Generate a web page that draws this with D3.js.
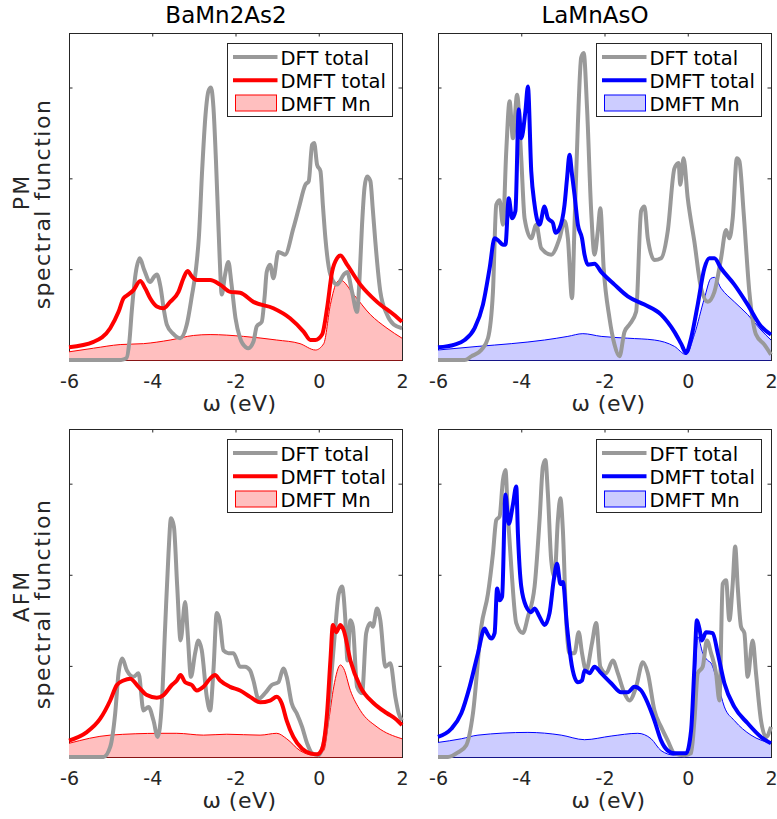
<!DOCTYPE html>
<html>
<head>
<meta charset="utf-8">
<script src="https://cdn.jsdelivr.net/npm/d3@7"></script>
<style>
  html, body { margin: 0; padding: 0; background: #fff; }
  svg { display: block; font-family: "DejaVu Sans", sans-serif; }
</style>
</head>
<body>
<svg id="fig" width="777" height="819"></svg>
<script>
// ---- data: spectral functions A(ω), energies in eV ----
const omegaTicks = [-6, -4, -2, 0, 2];
const yTicks = [1, 2, 3];
const materials = ["BaMn2As2", "LaMnAsO"];
const phases = ["PM", "AFM"];
const seriesNames = ["DFT total", "DMFT total", "DMFT Mn"];

// BaMn2As2, paramagnetic
const dftBaPM = [[-6,0],[-4.75,0],[-4.62,0.02],[-4.55,0.2],[-4.49,0.55],[-4.4,0.95],[-4.3,1.12],[-4.2,1.0],[-4.05,0.86],[-3.95,0.92],[-3.89,0.94],[-3.8,0.8],[-3.72,0.55],[-3.65,0.39],[-3.5,0.29],[-3.33,0.24],[-3.17,0.39],[-3.05,0.7],[-2.95,1.0],[-2.88,1.35],[-2.8,2.1],[-2.72,2.7],[-2.65,2.96],[-2.59,3.0],[-2.53,2.78],[-2.47,2.2],[-2.42,1.6],[-2.38,1.12],[-2.33,0.72],[-2.25,0.94],[-2.17,1.08],[-2.1,0.85],[-2.0,0.46],[-1.89,0.24],[-1.75,0.14],[-1.69,0.13],[-1.57,0.2],[-1.49,0.37],[-1.37,0.42],[-1.3,0.7],[-1.25,0.97],[-1.17,1.05],[-1.09,0.9],[-0.97,1.19],[-0.81,1.16],[-0.61,1.45],[-0.48,1.67],[-0.32,1.93],[-0.24,1.97],[-0.16,2.37],[-0.11,2.39],[-0.04,2.15],[0.04,2.08],[0.1,1.7],[0.16,1.34],[0.28,0.94],[0.44,0.83],[0.6,0.94],[0.68,0.97],[0.8,0.75],[0.92,0.53],[0.98,0.9],[1.04,1.49],[1.1,1.9],[1.16,2.02],[1.24,1.97],[1.3,1.65],[1.36,1.3],[1.48,0.75],[1.64,0.5],[1.8,0.39],[2.0,0.35]];
const dmftBaPM = [[-6,0.14],[-5.41,0.2],[-5.01,0.35],[-4.81,0.53],[-4.69,0.68],[-4.61,0.71],[-4.45,0.77],[-4.29,0.87],[-4.17,0.79],[-4.05,0.68],[-3.89,0.59],[-3.73,0.57],[-3.57,0.64],[-3.37,0.75],[-3.25,0.9],[-3.15,0.98],[-3.05,0.92],[-2.93,0.88],[-2.61,0.88],[-2.37,0.83],[-2.13,0.75],[-1.89,0.74],[-1.57,0.64],[-1.09,0.57],[-0.69,0.46],[-0.36,0.31],[-0.2,0.22],[-0.08,0.22],[0.08,0.28],[0.2,0.57],[0.32,0.97],[0.44,1.12],[0.52,1.15],[0.68,1.05],[1.0,0.83],[1.4,0.64],[1.8,0.5],[2.0,0.42]];
const mnBaPM = [[-6,0.09],[-5.41,0.13],[-4.77,0.17],[-4.21,0.18],[-3.57,0.22],[-3.01,0.27],[-2.61,0.28],[-1.81,0.26],[-1.01,0.22],[-0.45,0.18],[-0.08,0.11],[0.12,0.18],[0.28,0.61],[0.44,0.86],[0.52,0.88],[0.84,0.72],[1.24,0.5],[1.64,0.35],[2.0,0.24]];

// LaMnAsO, paramagnetic
const dftLaPM = [[-6,0],[-5.36,0],[-5.2,0.04],[-4.96,0.11],[-4.8,0.24],[-4.68,0.75],[-4.6,1.71],[-4.52,1.76],[-4.44,1.49],[-4.36,2.3],[-4.28,2.85],[-4.2,2.44],[-4.1,2.92],[-4.0,2.22],[-3.92,1.56],[-3.76,1.34],[-3.64,1.49],[-3.52,1.23],[-3.28,1.16],[-3.08,1.34],[-2.96,1.53],[-2.88,1.34],[-2.78,0.68],[-2.72,1.49],[-2.64,2.59],[-2.56,3.33],[-2.5,3.38],[-2.42,2.78],[-2.32,1.64],[-2.24,1.16],[-2.16,1.42],[-2.1,1.67],[-2.02,1.01],[-1.88,0.46],[-1.76,0.17],[-1.64,0.04],[-1.52,0.31],[-1.4,0.39],[-1.24,0.53],[-1.12,1.64],[-1.04,1.69],[-0.96,1.34],[-0.8,1.1],[-0.64,1.12],[-0.48,1.42],[-0.32,2.11],[-0.22,2.17],[-0.18,1.93],[-0.1,2.22],[0.0,1.78],[0.16,1.3],[0.32,0.79],[0.48,0.64],[0.64,0.75],[0.8,1.12],[0.92,1.43],[1.0,1.34],[1.08,1.56],[1.18,2.22],[1.24,2.19],[1.34,1.64],[1.48,0.75],[1.64,0.28],[1.84,0.17],[2.0,0.06]];
const dmftLaPM = [[-6,0.14],[-5.6,0.17],[-5.36,0.22],[-5.12,0.35],[-4.92,0.61],[-4.76,1.01],[-4.64,1.34],[-4.54,1.31],[-4.44,1.27],[-4.38,1.27],[-4.3,1.78],[-4.22,1.56],[-4.14,1.64],[-4.06,2.76],[-4.0,2.44],[-3.9,2.74],[-3.84,3.01],[-3.76,2.08],[-3.68,1.71],[-3.56,1.49],[-3.44,1.69],[-3.36,1.56],[-3.24,1.51],[-3.18,1.4],[-3.08,1.45],[-2.96,1.71],[-2.9,2.0],[-2.84,2.26],[-2.78,2.04],[-2.72,1.82],[-2.64,1.49],[-2.54,1.34],[-2.48,1.16],[-2.4,1.05],[-2.24,1.06],[-2.08,0.97],[-1.76,0.83],[-1.44,0.7],[-1.04,0.61],[-0.64,0.5],[-0.32,0.31],[-0.16,0.18],[-0.04,0.08],[0.08,0.24],[0.24,0.61],[0.4,1.01],[0.52,1.12],[0.64,1.12],[0.8,1.01],[1.12,0.83],[1.44,0.61],[1.76,0.37],[2.0,0.28]];
const mnLaPM = [[-6,0.11],[-5.04,0.15],[-4.24,0.18],[-3.44,0.22],[-2.88,0.26],[-2.52,0.29],[-2.08,0.26],[-1.44,0.24],[-0.8,0.22],[-0.32,0.15],[-0.04,0.06],[0.16,0.28],[0.4,0.68],[0.56,0.9],[0.64,0.91],[0.8,0.79],[1.12,0.64],[1.44,0.5],[1.76,0.33],[2.0,0.22]];

// BaMn2As2, antiferromagnetic
const dftBaAFM = [[-6,0],[-5.17,0],[-5.01,0.11],[-4.89,0.48],[-4.81,0.92],[-4.72,1.08],[-4.61,0.95],[-4.45,0.88],[-4.33,0.92],[-4.21,0.51],[-4.09,0.55],[-3.97,0.4],[-3.87,0.22],[-3.77,0.59],[-3.69,1.43],[-3.61,2.23],[-3.55,2.62],[-3.48,2.53],[-3.4,1.87],[-3.32,1.28],[-3.21,1.7],[-3.15,1.36],[-3.07,0.88],[-2.97,1.14],[-2.89,1.28],[-2.81,1.17],[-2.69,0.66],[-2.61,0.51],[-2.53,0.95],[-2.45,1.58],[-2.38,1.5],[-2.29,1.17],[-2.17,1.14],[-2.05,1.14],[-1.89,0.99],[-1.77,0.99],[-1.65,0.95],[-1.57,0.84],[-1.45,0.64],[-1.29,0.7],[-1.13,0.79],[-0.97,0.82],[-0.85,0.97],[-0.77,0.88],[-0.65,0.59],[-0.53,0.48],[-0.4,0.33],[-0.28,0.15],[-0.16,0.04],[0.0,0.02],[0.16,0.26],[0.28,0.77],[0.4,1.43],[0.48,1.79],[0.56,1.87],[0.64,1.5],[0.69,1.06],[0.76,1.5],[0.82,1.43],[0.92,0.77],[1.04,0.7],[1.14,1.36],[1.24,1.47],[1.3,1.43],[1.4,1.63],[1.48,1.5],[1.6,0.99],[1.72,1.03],[1.84,0.66],[1.92,0.48],[2.0,0.4]];
const dmftBaAFM = [[-6,0.18],[-5.58,0.27],[-5.25,0.42],[-5.01,0.62],[-4.85,0.79],[-4.69,0.84],[-4.53,0.86],[-4.33,0.77],[-4.13,0.68],[-3.89,0.65],[-3.73,0.68],[-3.53,0.79],[-3.41,0.84],[-3.32,0.9],[-3.21,0.82],[-3.05,0.79],[-2.93,0.73],[-2.77,0.77],[-2.61,0.86],[-2.49,0.9],[-2.37,0.84],[-2.13,0.77],[-1.89,0.73],[-1.65,0.66],[-1.41,0.6],[-1.17,0.62],[-1.01,0.66],[-0.89,0.59],[-0.77,0.4],[-0.61,0.22],[-0.4,0.09],[-0.2,0.04],[-0.04,0.03],[0.08,0.09],[0.2,0.48],[0.28,1.06],[0.34,1.45],[0.42,1.37],[0.52,1.45],[0.6,1.39],[0.76,1.06],[1.0,0.77],[1.32,0.59],[1.64,0.48],[1.84,0.42],[2.0,0.35]];
const mnBaAFM = [[-6,0.15],[-5.01,0.24],[-3.81,0.26],[-3.41,0.26],[-2.77,0.24],[-2.21,0.25],[-1.41,0.24],[-1.01,0.26],[-0.77,0.2],[-0.45,0.07],[-0.13,0.02],[0.12,0.07],[0.24,0.4],[0.36,0.77],[0.52,1.01],[0.6,0.97],[0.76,0.73],[1.0,0.51],[1.4,0.33],[2.0,0.2]];

// LaMnAsO, antiferromagnetic
const dftLaAFM = [[-6,0],[-5.76,0],[-5.52,0.05],[-5.32,0.13],[-5.16,0.48],[-4.96,1.43],[-4.8,1.79],[-4.68,2.23],[-4.6,2.6],[-4.52,2.64],[-4.44,3.04],[-4.38,3.15],[-4.32,2.64],[-4.24,2.09],[-4.12,1.47],[-3.96,1.36],[-3.84,1.54],[-3.68,1.87],[-3.56,2.6],[-3.48,3.19],[-3.42,3.26],[-3.36,2.89],[-3.28,2.16],[-3.2,1.98],[-3.12,2.6],[-3.06,2.84],[-3.0,2.49],[-2.92,1.5],[-2.84,1.14],[-2.72,1.14],[-2.62,1.37],[-2.54,1.14],[-2.44,0.95],[-2.3,1.25],[-2.2,1.47],[-2.1,0.99],[-1.96,0.92],[-1.8,1.06],[-1.68,0.92],[-1.52,0.7],[-1.4,0.62],[-1.24,0.77],[-1.08,1.04],[-0.96,0.92],[-0.8,0.51],[-0.64,0.33],[-0.48,0.18],[-0.32,0.04],[-0.08,0.02],[0.08,0.04],[0.16,0.4],[0.24,0.92],[0.36,0.99],[0.46,1.28],[0.56,1.14],[0.68,0.92],[0.76,0.62],[0.84,1.9],[0.92,1.94],[1.0,1.5],[1.08,1.9],[1.14,2.31],[1.2,1.87],[1.28,1.43],[1.36,1.36],[1.44,0.88],[1.56,1.28],[1.64,0.92],[1.76,0.4],[1.88,0.22],[2.0,0.33]];
const dmftLaAFM = [[-6,0.22],[-5.68,0.31],[-5.44,0.48],[-5.24,0.77],[-5.04,1.14],[-4.88,1.41],[-4.82,1.36],[-4.72,1.3],[-4.64,1.36],[-4.58,1.85],[-4.52,1.72],[-4.46,1.76],[-4.38,2.88],[-4.3,2.56],[-4.2,2.77],[-4.12,2.97],[-4.08,2.45],[-4.0,1.87],[-3.88,1.65],[-3.76,1.59],[-3.68,1.63],[-3.56,1.54],[-3.44,1.45],[-3.32,1.58],[-3.22,1.94],[-3.14,2.12],[-3.06,1.9],[-3.0,1.92],[-2.9,1.43],[-2.78,0.99],[-2.64,0.82],[-2.54,0.84],[-2.48,0.95],[-2.36,0.92],[-2.24,0.99],[-2.08,0.92],[-1.84,0.81],[-1.6,0.71],[-1.44,0.71],[-1.28,0.77],[-1.12,0.73],[-0.96,0.59],[-0.8,0.4],[-0.64,0.18],[-0.48,0.07],[-0.32,0.04],[-0.04,0.04],[0.08,0.29],[0.16,0.99],[0.22,1.5],[0.28,1.41],[0.34,1.28],[0.44,1.37],[0.6,1.36],[0.72,1.14],[0.88,0.81],[1.12,0.55],[1.44,0.37],[1.76,0.22],[2.0,0.15]];
const mnLaAFM = [[-6,0.16],[-5.44,0.2],[-5.04,0.24],[-3.84,0.27],[-3.04,0.24],[-2.48,0.19],[-1.84,0.23],[-1.2,0.26],[-0.88,0.2],[-0.64,0.07],[-0.32,0.02],[0.08,0.04],[0.16,0.7],[0.24,1.32],[0.36,1.14],[0.48,1.06],[0.56,1.03],[0.72,0.81],[0.88,0.55],[1.12,0.4],[1.52,0.24],[2.0,0.15]];

// ---- panel arrangement ----
const panels = [
  { row: 0, col: 0, dft: dftBaPM,  dmft: dmftBaPM,  mn: mnBaPM,  color: "#ff0000", fill: "#ffbfbf" },
  { row: 0, col: 1, dft: dftLaPM,  dmft: dmftLaPM,  mn: mnLaPM,  color: "#0000ff", fill: "#ccccff" },
  { row: 1, col: 0, dft: dftBaAFM, dmft: dmftBaAFM, mn: mnBaAFM, color: "#ff0000", fill: "#ffbfbf" },
  { row: 1, col: 1, dft: dftLaAFM, dmft: dmftLaAFM, mn: mnLaAFM, color: "#0000ff", fill: "#ccccff" }
];

const svg = d3.select("#fig");
const ink = "#262626";
const grey = "#999999";
const plotW = 333;
const colLeft = [69, 438];
const rowBox = [{ top: 33, bottom: 360 }, { top: 429, bottom: 757 }];
const yMax = 3.6;
const tickLen = 3.5;

panels.forEach(p => {
  const left = colLeft[p.col];
  const { top, bottom } = rowBox[p.row];
  const x = d3.scaleLinear().domain([-6, 2]).range([left, left + plotW]);
  const y = d3.scaleLinear().domain([0, yMax]).range([bottom, top]);
  const g = svg.append("g");

  // frame and inward ticks on all four sides
  g.append("rect")
    .attr("x", left + 0.5).attr("y", top + 0.5)
    .attr("width", plotW).attr("height", bottom - top)
    .attr("fill", "none").attr("stroke", ink).attr("stroke-width", 1);

  const styleAxis = sel => {
    sel.select(".domain").remove();
    sel.selectAll(".tick line").attr("stroke", ink);
    sel.selectAll(".tick text").attr("fill", ink)
      .attr("font-family", "DejaVu Sans").attr("font-size", 19);
  };
  g.append("g").attr("transform", `translate(0,${bottom})`)
    .call(d3.axisBottom(x).tickValues(omegaTicks).tickSizeInner(-tickLen).tickSizeOuter(0)
      .tickPadding(14.5).tickFormat(d => d < 0 ? "-" + Math.abs(d) : String(d)))
    .call(styleAxis);
  g.append("g").attr("transform", `translate(0,${top})`)
    .call(d3.axisTop(x).tickValues(omegaTicks).tickSizeInner(-tickLen).tickSizeOuter(0).tickFormat(""))
    .call(styleAxis);
  g.append("g").attr("transform", `translate(${left},0)`)
    .call(d3.axisLeft(y).tickValues(yTicks).tickSizeInner(-tickLen).tickSizeOuter(0).tickFormat(""))
    .call(styleAxis);
  g.append("g").attr("transform", `translate(${left + plotW},0)`)
    .call(d3.axisRight(y).tickValues(yTicks).tickSizeInner(-tickLen).tickSizeOuter(0).tickFormat(""))
    .call(styleAxis);

  // Mn-projected spectral weight
  const area = d3.area().x(d => x(d[0])).y0(y(0)).y1(d => y(d[1])).curve(d3.curveMonotoneX);
  const line = d3.line().x(d => x(d[0])).y(d => y(d[1])).curve(d3.curveMonotoneX);
  g.append("path").datum(p.mn).attr("d", area).attr("fill", p.fill).attr("stroke", "none");
  g.append("path").datum(p.mn).attr("d", line).attr("fill", "none")
    .attr("stroke", p.color).attr("stroke-width", 1);
  g.append("line").attr("x1", x(-6)).attr("x2", x(2)).attr("y1", y(0) + 0.5).attr("y2", y(0) + 0.5)
    .attr("stroke", p.color).attr("stroke-opacity", 0.45).attr("stroke-width", 1);

  // DFT total and DMFT total
  g.append("path").datum(p.dft).attr("d", line).attr("fill", "none")
    .attr("stroke", grey).attr("stroke-width", 4).attr("stroke-linejoin", "round");
  g.append("path").datum(p.dmft).attr("d", line).attr("fill", "none")
    .attr("stroke", p.color).attr("stroke-width", 4).attr("stroke-linejoin", "round");

  // legend
  const lw = 165, lh = 73;
  const lx = left + plotW - 10 - lw, ly = top + 10;
  const lg = g.append("g").attr("font-family", "DejaVu Sans").attr("font-size", 19.5).attr("fill", "#000");
  lg.append("rect").attr("x", lx + 0.5).attr("y", ly + 0.5).attr("width", lw).attr("height", lh)
    .attr("fill", "#fff").attr("stroke", ink).attr("stroke-width", 1);
  lg.append("line").attr("x1", lx + 6).attr("x2", lx + 50.5).attr("y1", ly + 14).attr("y2", ly + 14)
    .attr("stroke", grey).attr("stroke-width", 4);
  lg.append("line").attr("x1", lx + 6).attr("x2", lx + 50.5).attr("y1", ly + 37.3).attr("y2", ly + 37.3)
    .attr("stroke", p.color).attr("stroke-width", 4);
  lg.append("rect").attr("x", lx + 8.5).attr("y", ly + 52).attr("width", 41).attr("height", 16)
    .attr("fill", p.fill).attr("stroke", p.color).attr("stroke-width", 1);
  const baselines = [21.7, 45, 67.7];
  seriesNames.forEach((s, i) => {
    lg.append("text").attr("x", lx + 53.5).attr("y", ly + baselines[i]).text(s);
  });

  // x label
  g.append("text")
    .attr("x", left + plotW / 2 + 4).attr("y", bottom + 51)
    .attr("text-anchor", "middle").attr("font-family", "DejaVu Sans").attr("font-size", 22)
    .attr("letter-spacing", 0.5).attr("fill", ink)
    .text("ω (eV)");

  // column titles
  if (p.row === 0) {
    g.append("text")
      .attr("x", left + plotW / 2 - 9.5).attr("y", 22.7)
      .attr("text-anchor", "middle").attr("font-family", "DejaVu Sans").attr("font-size", 23)
      .attr("fill", "#000")
      .text(materials[p.col]);
  }

  // row labels
  if (p.col === 0) {
    const cy = (top + bottom) / 2;
    const phaseY = p.row === 0 ? cy - 4.5 : cy + 3;
    const specY = p.row === 0 ? cy + 7.5 : cy + 11;
    g.append("text")
      .attr("transform", `translate(29,${phaseY}) rotate(-90)`)
      .attr("text-anchor", "middle").attr("font-family", "DejaVu Sans").attr("font-size", 22)
      .attr("letter-spacing", 2).attr("fill", ink)
      .text(phases[p.row]);
    g.append("text")
      .attr("transform", `translate(50,${specY}) rotate(-90)`)
      .attr("text-anchor", "middle").attr("font-family", "DejaVu Sans").attr("font-size", 22)
      .attr("letter-spacing", 1.5).attr("fill", ink)
      .text("spectral function");
  }
});
</script>
</body>
</html>
